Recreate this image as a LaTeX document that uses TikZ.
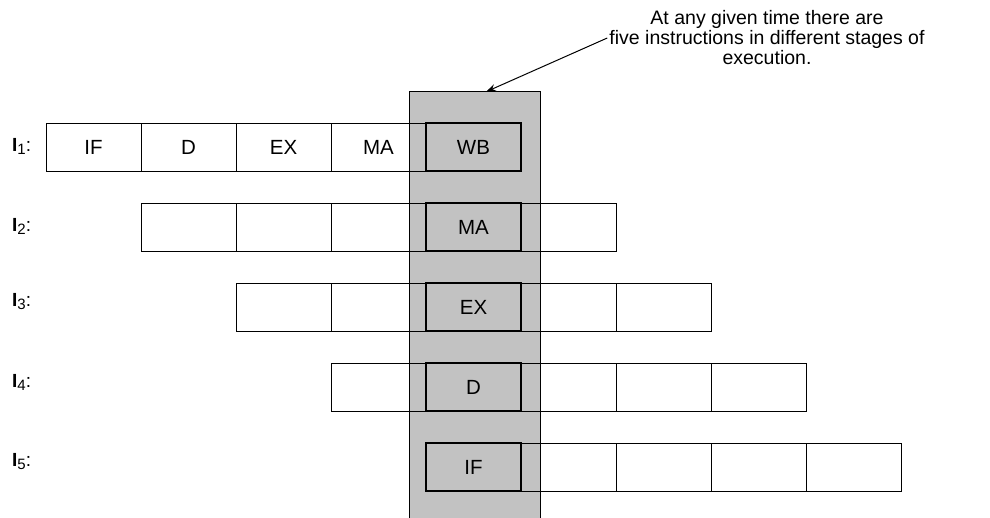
\documentclass[tikz,border=0pt]{standalone}
\usepackage{fontspec}
\setmainfont{Liberation Sans}
\usetikzlibrary{arrows.meta}
\newcommand{\lab}[1]{\textbf{I}\raisebox{-3pt}{\fontsize{15}{15}\selectfont #1}:}
\begin{document}
\begin{tikzpicture}[x=1pt,y=-1pt,
  cellbox/.style={draw, line width=0.9pt, minimum width=95pt, minimum height=48pt,
    inner sep=0pt, font=\fontsize{20.5}{20.5}\selectfont},
  hotcell/.style={cellbox, line width=1.5pt},
  rowlabel/.style={anchor=west, inner sep=0pt, font=\fontsize{19}{19}\selectfont},
  note/.style={align=center, inner sep=2pt, font=\fontsize{19.5}{20}\selectfont},
  pointer/.style={line width=1pt, -{Stealth[length=10pt,width=7pt]}}]
\useasboundingbox (0,0) rectangle (990,518);
% shaded column
\node[fill=black!24, minimum width=130pt, minimum height=426pt, inner sep=0pt] (col) at (475,305) {};
\draw[line width=1.1pt] (col.south west) -- (col.north west) -- (col.north east) -- (col.south east);
% row labels
\node[rowlabel] (l1) at (12,146) {\lab{1}};
\node[rowlabel] (l2) at (12,226) {\lab{2}};
\node[rowlabel] (l3) at (12,302) {\lab{3}};
\node[rowlabel] (l4) at (12,382) {\lab{4}};
\node[rowlabel] (l5) at (12,462) {\lab{5}};
% row 1
\node[cellbox] (a1) at (93.5,147) {IF};
\node[cellbox] (a2) at (188.5,147) {D};
\node[cellbox] (a3) at (283.5,147) {EX};
\node[cellbox] (a4) at (378.5,147) {MA};
\node[hotcell] (a5) at (473.5,147) {WB};
% row 2
\node[cellbox] (b1) at (188.5,227) {};
\node[cellbox] (b2) at (283.5,227) {};
\node[cellbox] (b3) at (378.5,227) {};
\node[hotcell] (b4) at (473.5,227) {MA};
\node[cellbox] (b5) at (568.5,227) {};
% row 3
\node[cellbox] (c1) at (283.5,307) {};
\node[cellbox] (c2) at (378.5,307) {};
\node[hotcell] (c3) at (473.5,307) {EX};
\node[cellbox] (c4) at (568.5,307) {};
\node[cellbox] (c5) at (663.5,307) {};
% row 4
\node[cellbox] (d1) at (378.5,387) {};
\node[hotcell] (d2) at (473.5,387) {D};
\node[cellbox] (d3) at (568.5,387) {};
\node[cellbox] (d4) at (663.5,387) {};
\node[cellbox] (d5) at (758.5,387) {};
% row 5
\node[hotcell] (e1) at (473.5,467) {IF};
\node[cellbox] (e2) at (568.5,467) {};
\node[cellbox] (e3) at (663.5,467) {};
\node[cellbox] (e4) at (758.5,467) {};
\node[cellbox] (e5) at (853.5,467) {};
% annotation
\node[note] (txt) at (767,38) {At any given time there are\\five instructions in different stages of\\execution.};
\draw[pointer] (txt.west) -- ([xshift=11pt]col.north);
\end{tikzpicture}
\end{document}
